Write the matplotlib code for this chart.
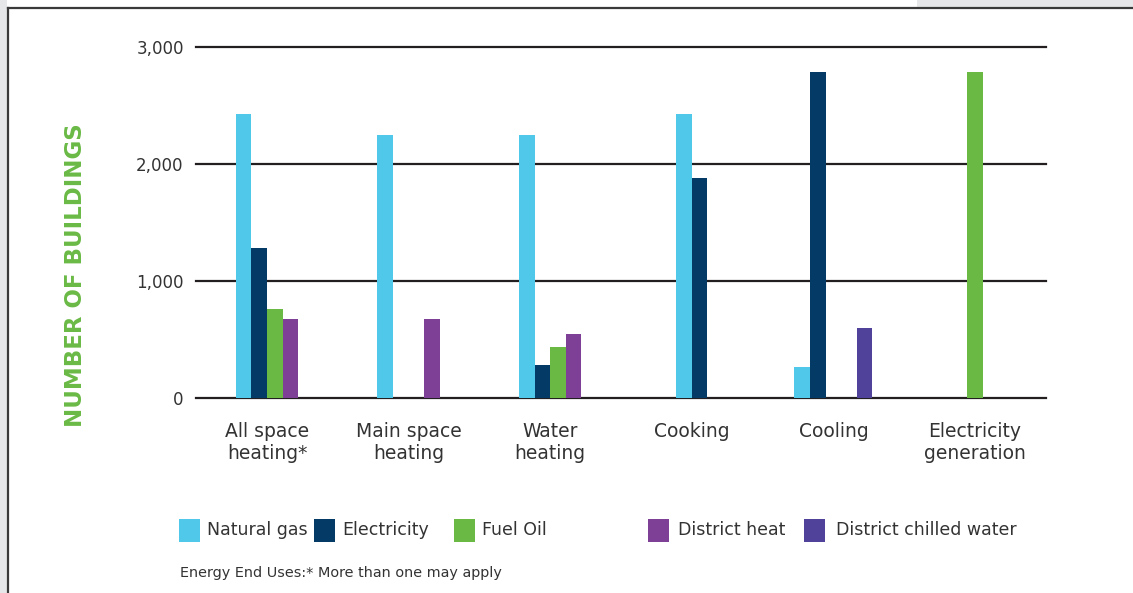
import matplotlib
matplotlib.use("Agg")
import matplotlib.pyplot as plt
from matplotlib.patches import Rectangle
from matplotlib.lines import Line2D

# Number of buildings by energy end use and fuel
categories = ["All space\nheating*", "Main space\nheating", "Water\nheating",
              "Cooking", "Cooling", "Electricity\ngeneration"]
series_names = ["Natural gas", "Electricity", "Fuel Oil", "District heat",
                "District chilled water"]
# None = fuel not shown for that end use, 0 = empty slot kept in the group
natural_gas = [2430, 2250, 2250, 2430, 270, None]
electricity = [1280, 0, 285, 1880, 2780, None]
fuel_oil = [760, 0, 440, None, 0, 2780]
district_heat = [680, 680, 550, None, 0, None]
district_chilled = [None, None, None, None, 600, None]
yticks = [0, 1000, 2000, 3000]

colors = ["#50c8ea", "#033a66", "#6ab945", "#7e3f97", "#50419b"]
text_col = "#333333"
series = [natural_gas, electricity, fuel_oil, district_heat, district_chilled]

W, H = 1133, 593
fig = plt.figure(figsize=(W / 100, H / 100), dpi=100)
plt.rcParams["font.family"] = ["DejaVu Sans"]

# page frame
fig.add_artist(Rectangle((0, 0), 7 / W, 1, transform=fig.transFigure,
                         facecolor="#e6e7e8", edgecolor="none"))
fig.add_artist(Rectangle((917 / W, 1 - 7 / H), 1 - 917 / W, 7 / H,
                         transform=fig.transFigure, facecolor="#e6e7e8",
                         edgecolor="none"))
fig.add_artist(Line2D([7.5 / W, 1], [1 - 7.5 / H, 1 - 7.5 / H],
                      transform=fig.transFigure, color="#3a3a3a", lw=1.6))
fig.add_artist(Line2D([7.5 / W, 7.5 / W], [0, 1 - 7.5 / H],
                      transform=fig.transFigure, color="#3a3a3a", lw=1.6))

ax = fig.add_axes([196.2 / W, 1 - 398.3 / H, 849.6 / W, 351.6 / H])
bar_w = 0.11

for i in range(len(categories)):
    present = [k for k, s in enumerate(series) if s[i] is not None]
    first, last = present[0], present[-1]
    n = last - first + 1
    for k in range(first, last + 1):
        v = series[k][i]
        if not v:
            continue
        x = i + (k - first - (n - 1) / 2) * bar_w
        ax.bar(x, v, width=bar_w, color=colors[k], linewidth=0, zorder=3)

ax.set_xlim(-0.5, 5.5)
ax.set_ylim(0, 3000)
ax.set_yticks(yticks)
ax.set_yticklabels([f"{t:,}" for t in yticks], fontsize=12, color=text_col)
ax.set_xticks(range(len(categories)))
ax.set_xticklabels(categories, fontsize=13.5, color=text_col)
ax.tick_params(axis="both", length=0)
ax.tick_params(axis="y", pad=9)
ax.tick_params(axis="x", pad=17)
ax.grid(axis="y", color="#231f20", lw=1.6, zorder=1)
ax.set_axisbelow(True)
for gl in ax.get_ygridlines():
    gl.set_clip_on(False)
for sp in ax.spines.values():
    sp.set_visible(False)

fig.text(76 / W, 1 - 275.5 / H, "NUMBER OF BUILDINGS", rotation=90,
         ha="center", va="center", fontsize=16.5, fontweight="heavy",
         color="#6ab945")

# legend row
sq_x = [179, 314, 454, 648, 804]
txt_x = [207, 342, 482, 678, 836]
for name, c, sx, tx in zip(series_names, colors, sq_x, txt_x):
    fig.add_artist(Rectangle((sx / W, 1 - 542 / H), 21 / W, 23 / H,
                             transform=fig.transFigure, facecolor=c,
                             edgecolor="none"))
    fig.text(tx / W, 1 - 530 / H, name, ha="left", va="center",
             fontsize=12.5, color=text_col)

fig.text(180 / W, 1 - 573 / H, "Energy End Uses:* More than one may apply",
         ha="left", va="center", fontsize=10.4, color=text_col)

fig.savefig("out.png", dpi=100, facecolor="white")
